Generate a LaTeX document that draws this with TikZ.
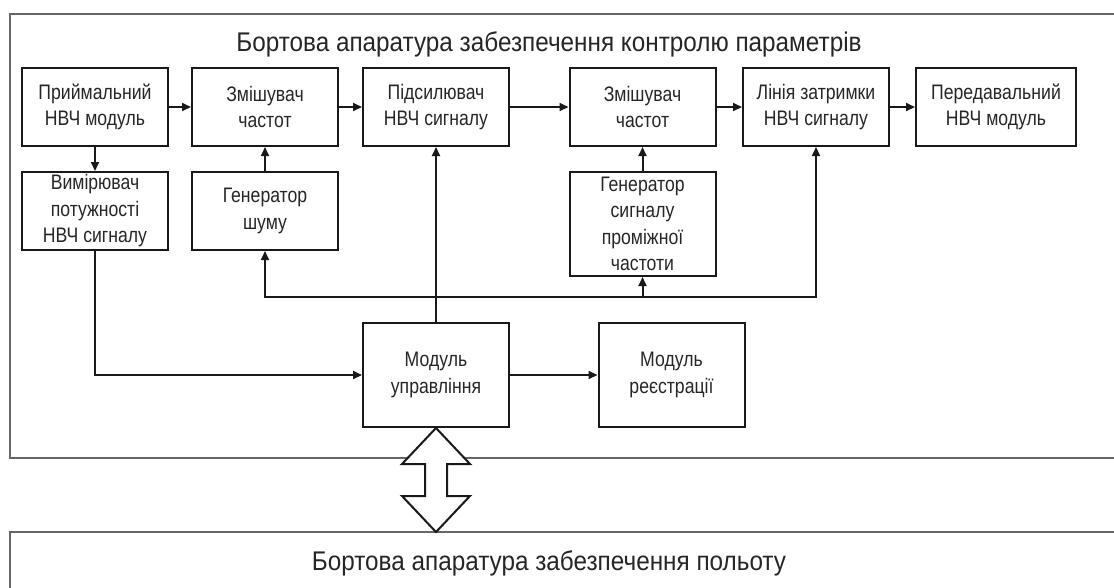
\documentclass[tikz,border=0pt]{standalone}
\usepackage{fontspec}
\setmainfont{Liberation Sans}[FakeStretch=0.84]
\newfontfamily\titlefont{Liberation Sans}[FakeStretch=0.9]
\usetikzlibrary{arrows.meta}
\begin{document}
\begin{tikzpicture}[x=1pt,y=-1pt,
  block/.style={draw=black!90, line width=2pt, minimum width=146pt, minimum height=78pt,
    inner sep=0pt, align=center, font=\fontsize{21}{26.5}\selectfont, text=black!85},
  arr/.style={line width=2pt, -{Triangle[length=9pt,width=8pt]}, draw=black!90},
  frame/.style={draw=black!60, line width=1.5pt},
  ttl/.style={font=\titlefont\fontsize{27}{32}\selectfont, text=black!85, anchor=base, inner sep=0pt}]
\useasboundingbox (0,0) rectangle (1114,587);
% outer frames
\draw[frame] (1120,14) -- (10,14) -- (10,458) -- (1120,458);
\draw[frame] (1120,532) -- (10,532) -- (10,600);
\node[ttl] (t1) at (549,51) {Бортова апаратура забезпечення контролю параметрів};
\node[ttl] (t2) at (549,570) {Бортова апаратура забезпечення польоту};
% row 1
\node[block] (b1) at (95,107) {Приймальний\\НВЧ модуль};
\node[block] (b2) at (265,107) {Змішувач\\частот};
\node[block] (b3) at (436,107) {Підсилювач\\НВЧ сигналу};
\node[block] (b4) at (642.5,107) {Змішувач\\частот};
\node[block] (b5) at (816,107) {Лінія затримки\\НВЧ сигналу};
\node[block, minimum width=160pt] (b6) at (996,107) {Передавальний\\НВЧ модуль};
% row 2
\node[block] (m) at (95,211) {Вимірювач\\потужності\\НВЧ сигналу};
\node[block] (gn) at (265,211) {Генератор\\шуму};
\node[block, minimum height=104pt] (gp) at (642.5,224) {Генератор\\сигналу\\проміжної\\частоти};
% row 3
\node[block, minimum height=104pt] (ctrl) at (436,375) {Модуль\\управління};
\node[block, minimum height=104pt] (reg) at (671.5,375) {Модуль\\реєстрації};
% connectors
\draw[arr] (b1) -- (b2);
\draw[arr] (b2) -- (b3);
\draw[arr] (b3) -- (b4);
\draw[arr] (b4) -- (b5);
\draw[arr] (b5) -- (b6);
\draw[arr] (b1.south) -- (m.north);
\draw[arr] (gn.north) -- (b2.south);
\draw[arr] (gp.north) -- (b4.south);
\draw[arr] (m.south) |- (ctrl.west);
\draw[arr] (ctrl) -- (reg);
\coordinate (bus) at (436,297);
\draw[arr] (ctrl.north) -- (b3.south);
\draw[arr] (bus) -| (gn.south);
\draw[arr] (bus) -| (b5.south);
\draw[arr] (gp.south |- bus) -- (gp.south);
% double arrow to lower system
\draw[line width=2pt, draw=black!90, fill=white, line join=miter]
  (ctrl.south) -- ++(34,36) -- ++(-23,0) -- ++(0,32) -- ++(23,0) -- ++(-34,36)
  -- ++(-34,-36) -- ++(23,0) -- ++(0,-32) -- ++(-23,0) -- cycle;
\end{tikzpicture}
\end{document}
